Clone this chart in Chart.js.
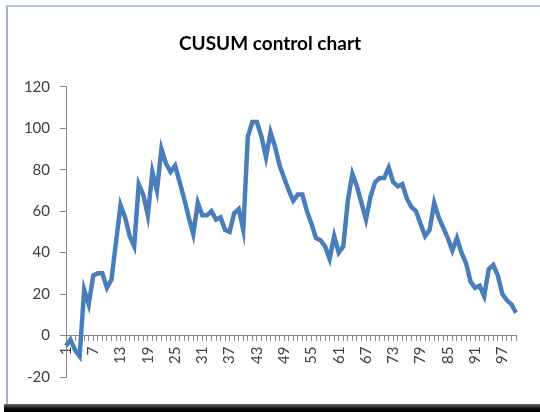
<!DOCTYPE html>
<html>
<head>
<meta charset="utf-8">
<title>CUSUM control chart</title>
<script src="https://cdn.jsdelivr.net/npm/chart.js@4.4.1/dist/chart.umd.min.js"></script>
<style>
  html, body { margin: 0; padding: 0; background: #fff; }
  body { width: 540px; height: 412px; position: relative; overflow: hidden; }
  .frame {
    position: absolute; left: 6px; top: 5px; width: 540px; height: 398px;
    border-top: 2px solid #b4c6e4; border-left: 2px solid #a3b2c8;
  }
  .shadow {
    position: absolute; left: 4px; top: 404px; width: 540px; height: 8px;
    background: linear-gradient(#6a6a6a, #0a0a0a 60%, #000);
  }
  #wrap { position: absolute; left: 0; top: 0; width: 540px; height: 412px; }
</style>
</head>
<body>
<div class="frame"></div>
<div class="shadow"></div>
<div id="wrap"><canvas id="cusumChart"></canvas></div>
<script>
// sample numbers along the x axis
const categories = Array.from({ length: 100 }, (_, i) => String(i + 1));

// cumulative sum
const cusum = [
  -5, -2, -7, -10, 22, 15, 29, 30, 30, 23,
  27, 45, 63, 57, 48, 43, 73, 68, 58, 79,
  70, 90, 83, 79, 82, 74, 66, 57, 49, 64,
  58, 58, 60, 56, 57, 51, 50, 59, 61, 51,
  96, 103, 103, 96, 86, 98, 91, 82, 76, 70,
  65, 68, 68, 60, 54, 47, 46, 43, 37, 48,
  40, 43, 65, 78, 72, 64, 56, 67, 74, 76,
  76, 81, 74, 72, 73, 66, 62, 60, 54, 48,
  51, 64, 57, 52, 47, 41, 47, 40, 35, 26,
  23, 24, 19, 32, 34, 29, 20, 17, 15, 11,
];

const yMin = -20;
const yMax = 120;
const yStep = 20;
const labelEvery = 6;

const axisGrey = '#868686';
const textColor = '#404040';

const ctx = document.getElementById('cusumChart');
new Chart(ctx, {
  type: 'line',
  data: {
    labels: categories,
    datasets: [{
      label: 'CUSUM',
      data: cusum,
      borderColor: '#4a7ebb',
      borderWidth: 4.5,
      pointRadius: 0,
      tension: 0,
      fill: false,
    }],
  },
  options: {
    responsive: true,
    maintainAspectRatio: false,
    animation: false,
    // equal side padding keeps the title centred on the page
    layout: { padding: { left: 12, right: 12, top: 0, bottom: 35 } },
    plugins: {
      legend: { display: false },
      tooltip: { enabled: false },
      title: {
        display: true,
        text: 'CUSUM control chart',
        color: '#000',
        font: { family: 'Lato', size: 19, weight: 'bold' },
        padding: { top: 32, bottom: 32 },
      },
    },
    scales: {
      x: {
        position: { y: 0 },
        offset: false,
        grid: {
          drawOnChartArea: false,
          drawTicks: true,
          tickLength: 5,
          color: axisGrey,
          offset: false,
        },
        border: { color: axisGrey, width: 1 },
        ticks: {
          autoSkip: false,
          maxRotation: 90,
          minRotation: 90,
          padding: 6,
          color: textColor,
          font: { family: 'Lato', size: 15 },
          callback: (value, index) => (index % labelEvery === 0 ? categories[index] : ''),
        },
      },
      y: {
        min: yMin,
        max: yMax,
        grid: {
          drawOnChartArea: false,
          drawTicks: true,
          tickLength: 6,
          color: axisGrey,
        },
        border: { color: axisGrey, width: 1 },
        ticks: {
          stepSize: yStep,
          padding: 10,
          color: textColor,
          font: { family: 'Lato', size: 15 },
        },
        afterFit: (scale) => { scale.width = 54; },
      },
      // empty spacer on the right so the plot ends where the reference does
      spacer: {
        type: 'linear',
        position: 'right',
        display: true,
        grid: { display: false },
        border: { display: false },
        ticks: { display: false },
        afterFit: (scale) => { scale.width = 12; },
      },
    },
  },
});
</script>
</body>
</html>
